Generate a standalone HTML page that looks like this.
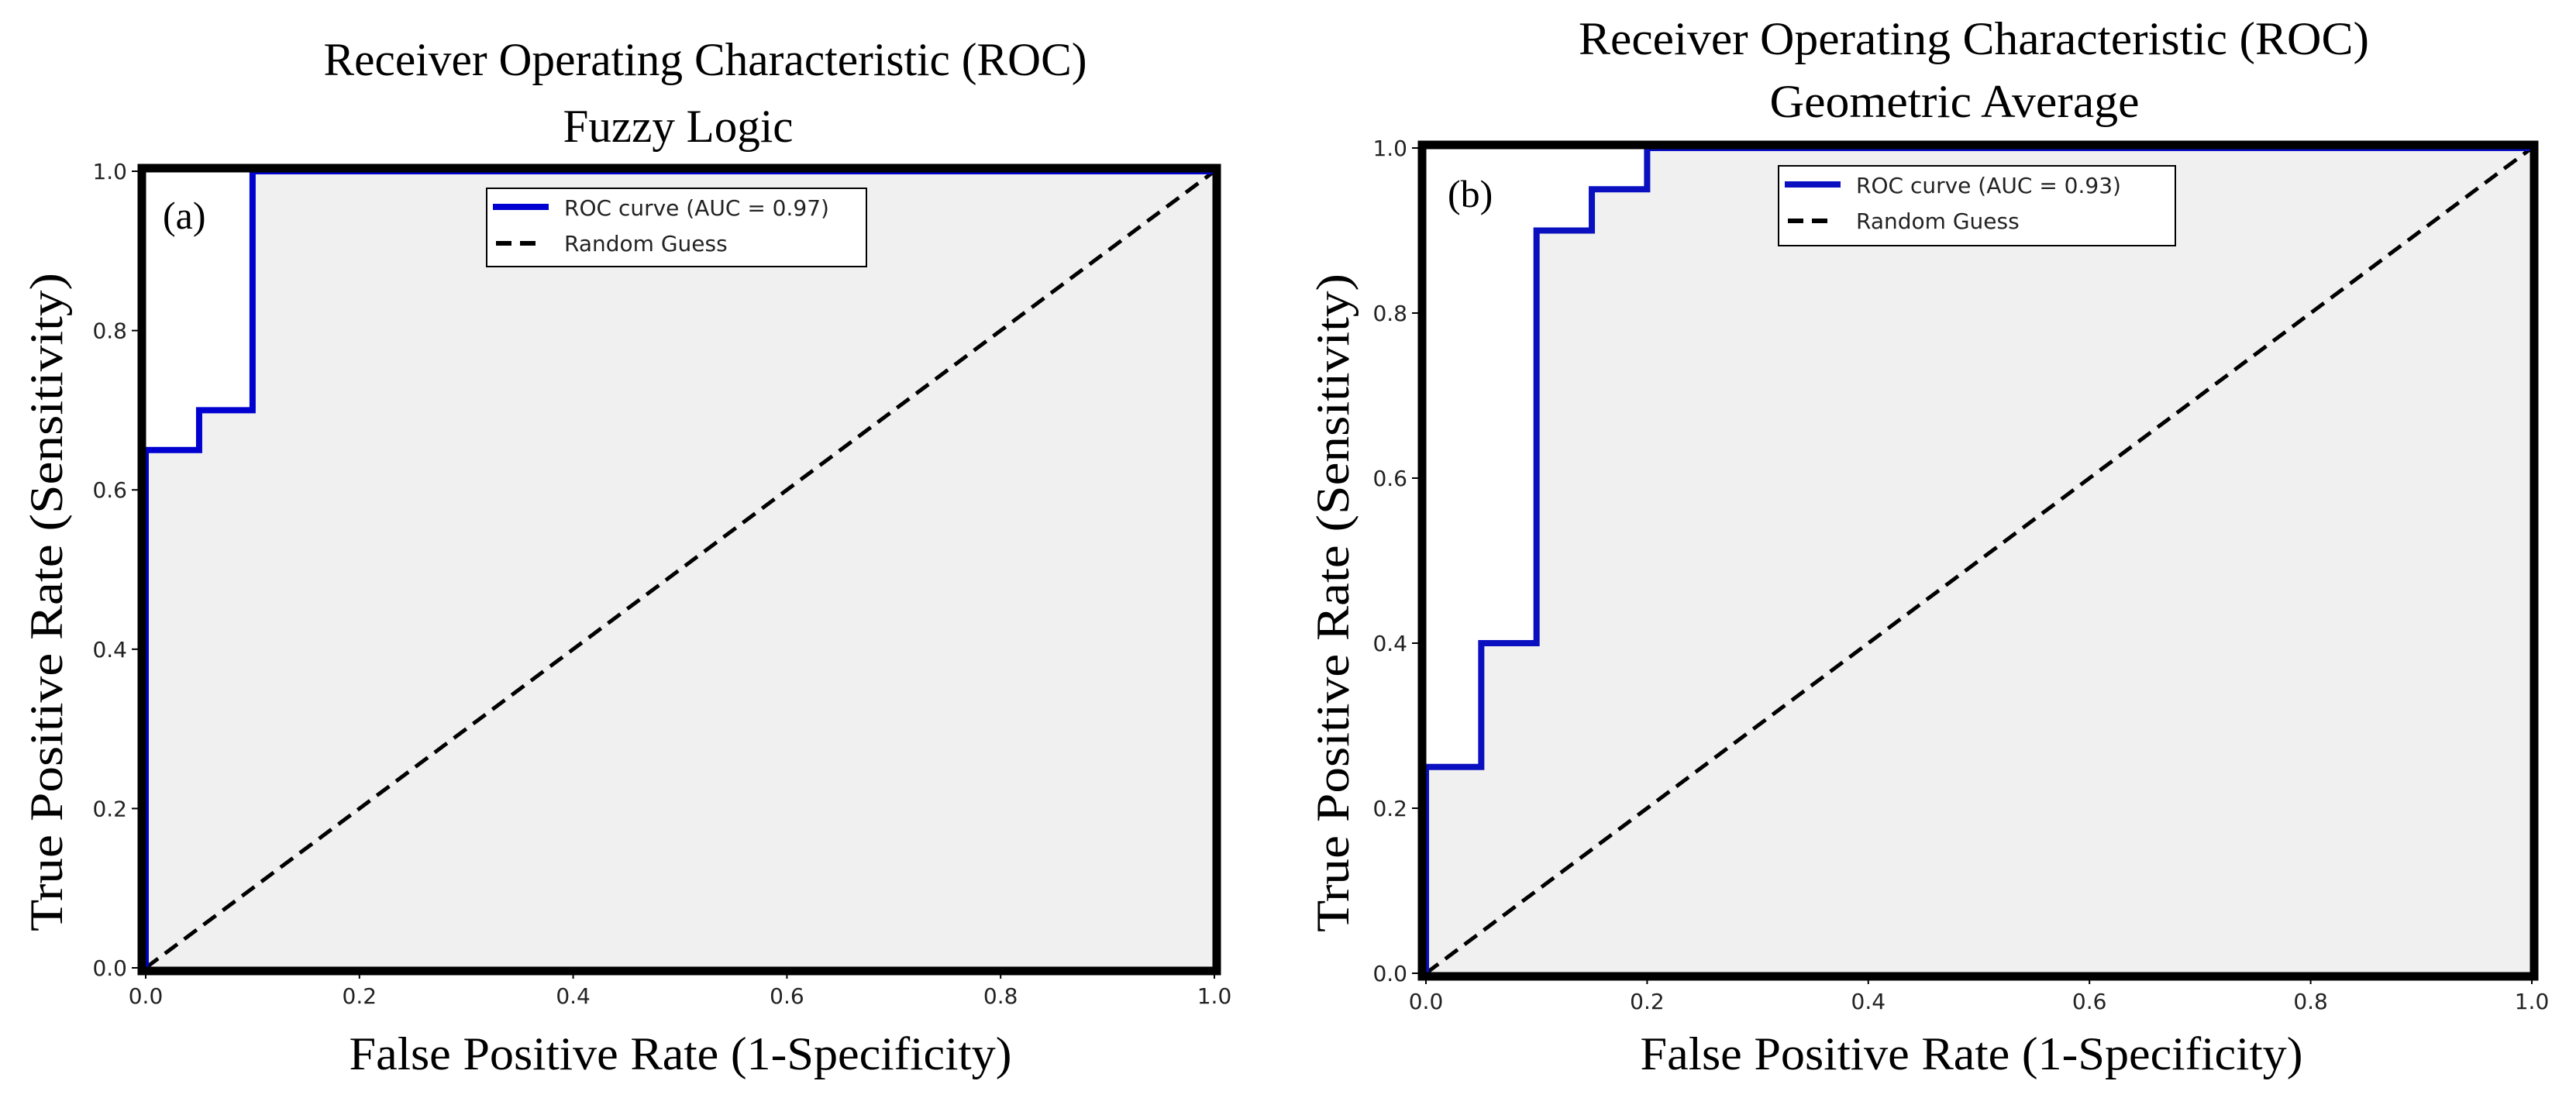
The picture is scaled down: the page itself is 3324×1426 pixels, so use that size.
<!DOCTYPE html>
<html><head><meta charset="utf-8"><style>
html,body{margin:0;padding:0;background:#fff;}
svg{display:block;}
.serif{font-family:"Liberation Serif",serif;fill:#000;}
.sans{font-family:"DejaVu Sans","Liberation Sans",sans-serif;fill:#222;}
</style></head><body>
<svg id="fig" width="3324" height="1426" viewBox="0 0 3324 1426" xmlns="http://www.w3.org/2000/svg"></svg>
<script>
const ticks = [0, 0.2, 0.4, 0.6, 0.8, 1.0];
const tickLabels = ["0.0", "0.2", "0.4", "0.6", "0.8", "1.0"];
const fprA = [0, 0, 0.05, 0.05, 0.1, 0.1, 1];
const tprA = [0, 0.65, 0.65, 0.7, 0.7, 1, 1];
const fprB = [0, 0, 0.05, 0.05, 0.1, 0.1, 0.15, 0.15, 0.2, 0.2, 1];
const tprB = [0, 0.25, 0.25, 0.4, 0.4, 0.9, 0.9, 0.95, 0.95, 1, 1];
const diagX = [0, 1];
const diagY = [0, 1];
const aucA = "0.97";
const aucB = "0.93";

const NS = "http://www.w3.org/2000/svg";
const svg = document.getElementById('fig');
function mk(tag, attrs, parent, text){
  const e = document.createElementNS(NS, tag);
  for (const k in attrs) e.setAttribute(k, attrs[k]);
  if (text !== undefined) e.textContent = text;
  (parent || svg).appendChild(e);
  return e;
}

function panel(cfg){
  const g = mk('g', {});
  
  
  const sx = v => cfg.x0 + v * (cfg.x1 - cfg.x0);
  const sy = v => cfg.y0 - v * (cfg.y0 - cfg.y1);

  let d = 'M' + sx(cfg.fpr[0]) + ',' + sy(0);
  for (let i = 0; i < cfg.fpr.length; i++) d += ' L' + sx(cfg.fpr[i]) + ',' + sy(cfg.tpr[i]);
  d += ' L' + sx(cfg.fpr[cfg.fpr.length-1]) + ',' + sy(0) + ' Z';
  const fill = mk('path', {d: d, fill: '#f0f0f0'}, g);
  
  

  const diag = mk('line', {x1: sx(diagX[0]), y1: sy(diagY[0]), x2: sx(diagX[1]), y2: sy(diagY[1]),
    stroke: '#000', 'stroke-width': 5, 'stroke-dasharray': '20 11'}, g);
  
  

  let pts = cfg.fpr.map((f, i) => sx(f) + ',' + sy(cfg.tpr[i])).join(' ');
  const roc = mk('polyline', {points: pts, fill: 'none', stroke: cfg.blue, 'stroke-width': 8, 'stroke-linejoin': 'miter'}, g);
  
  

  const fr = mk('rect', {x: cfg.x0 - 5, y: cfg.y1 - 4, width: cfg.x1 - cfg.x0 + 8, height: cfg.y0 - cfg.y1 + 8,
    fill: 'none', stroke: '#000', 'stroke-width': 11}, g);
  
  

  ticks.forEach((t, i) => {
    const xt = mk('line', {x1: sx(t), y1: cfg.y0 + 4, x2: sx(t), y2: cfg.y0 + 14, stroke: '#000', 'stroke-width': 2}, g);
    
    
    const xl = mk('text', {x: sx(t), y: cfg.y0 + 46, 'text-anchor': 'middle', 'font-size': 28, class: 'sans'}, g, tickLabels[i]);
    
    
    const yt = mk('line', {x1: cfg.x0 - 18, y1: sy(t), x2: cfg.x0 - 8, y2: sy(t), stroke: '#000', 'stroke-width': 2}, g);
    
    
    const yl = mk('text', {x: cfg.x0 - 24, y: sy(t) + 10, 'text-anchor': 'end', 'font-size': 28, class: 'sans'}, g, tickLabels[i]);
    
    
  });

  const t1 = mk('text', {x: cfg.t1x, y: cfg.t1y, 'text-anchor': 'middle', 'font-size': 60, class: 'serif',
    textLength: cfg.t1w, lengthAdjust: 'spacingAndGlyphs'}, g, 'Receiver Operating Characteristic (ROC)');
  
  
  const t2 = mk('text', {x: cfg.t2x, y: cfg.t2y, 'text-anchor': 'middle', 'font-size': 60, class: 'serif',
    textLength: cfg.t2w, lengthAdjust: 'spacingAndGlyphs'}, g, cfg.sub);
  
  

  const xa = mk('text', {x: cfg.xlx, y: 1380, 'text-anchor': 'middle', 'font-size': 60, class: 'serif',
    textLength: 855, lengthAdjust: 'spacingAndGlyphs'}, g, 'False Positive Rate (1-Specificity)');
  
  
  const ya = mk('text', {x: 0, y: 0, 'text-anchor': 'middle', 'font-size': 60, class: 'serif',
    transform: 'translate(' + cfg.ylx + ',' + cfg.yly + ') rotate(-90)', textLength: 850, lengthAdjust: 'spacingAndGlyphs'}, g, 'True Positive Rate (Sensitivity)');
  
  

  const pl = mk('text', {x: cfg.plx, y: cfg.ply, 'font-size': 50, class: 'serif'}, g, cfg.letter);
  
  

  const L = cfg.leg;
  const lg = mk('g', {}, g);
  
  
  mk('rect', {x: L.x, y: L.y, width: L.w, height: L.h, fill: '#fff', stroke: '#000', 'stroke-width': 2}, lg);
  const e1 = mk('line', {x1: L.x + 8, y1: L.y + 24, x2: L.x + 80, y2: L.y + 24, stroke: cfg.blue, 'stroke-width': 8}, lg);
  
  
  const l1 = mk('text', {x: L.x + 100, y: L.y + 35, 'font-size': 28, class: 'sans'}, lg, 'ROC curve (AUC = ' + cfg.auc + ')');
  
  
  const e2 = mk('line', {x1: L.x + 12, y1: L.y + 71, x2: L.x + 72, y2: L.y + 71, stroke: '#000', 'stroke-width': 6, 'stroke-dasharray': '20 11'}, lg);
  
  
  const l2 = mk('text', {x: L.x + 100, y: L.y + 81, 'font-size': 28, class: 'sans'}, lg, 'Random Guess');
  
  
}

panel({id: 'fuzzy-logic', x0: 188, x1: 1567, y0: 1249, y1: 221, fpr: fprA, tpr: tprA, blue: '#0000d0', auc: aucA,
  sub: 'Fuzzy Logic', t1x: 910, t1y: 97, t1w: 985, t2x: 875, t2y: 183, t2w: 297,
  xlx: 878, ylx: 80, yly: 777, plx: 210, ply: 295, letter: '(a)',
  leg: {x: 628, y: 243, w: 490, h: 101}});
panel({id: 'geometric-average', x0: 1840, x1: 3267, y0: 1256, y1: 191, fpr: fprB, tpr: tprB, blue: '#0a10c0', auc: aucB,
  sub: 'Geometric Average', t1x: 2547, t1y: 70, t1w: 1020, t2x: 2522, t2y: 151, t2w: 477,
  xlx: 2544, ylx: 1740, yly: 778, plx: 1868, ply: 267, letter: '(b)',
  leg: {x: 2295, y: 214, w: 512, h: 103}});
</script>
</body></html>
